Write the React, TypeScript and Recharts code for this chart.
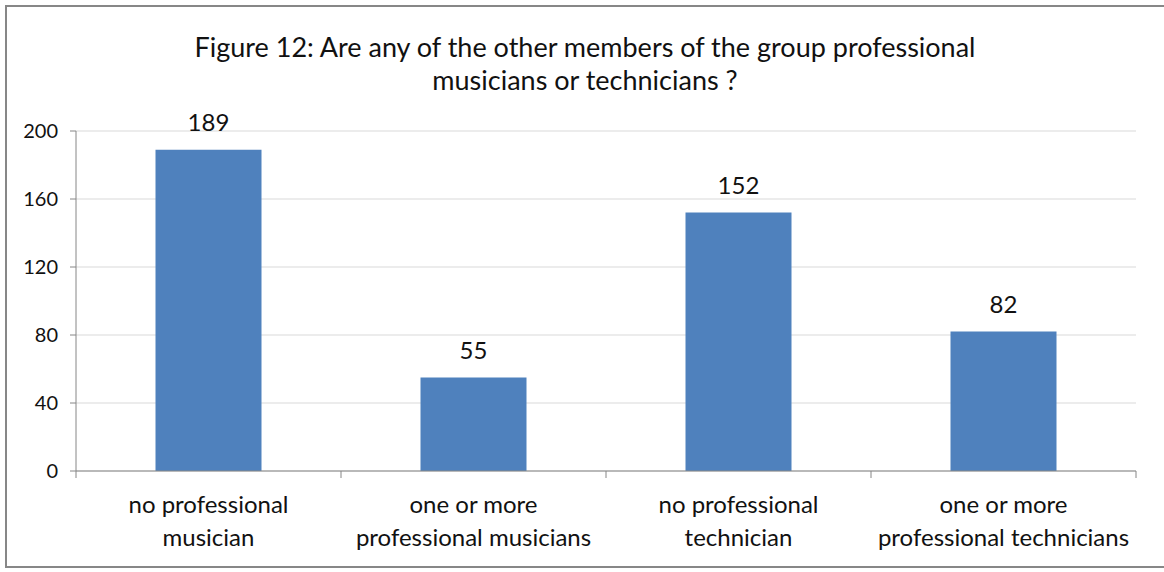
import React from "react";
import { BarChart, Bar, XAxis, YAxis, CartesianGrid, LabelList } from "recharts";

const categories = [
  "no professional|musician",
  "one or more|professional musicians",
  "no professional|technician",
  "one or more|professional technicians",
];
const counts = [189, 55, 152, 82];
const yTicks = [0, 40, 80, 120, 160, 200];

const data = categories.map((c, i) => ({ name: c, value: counts[i] }));

const FONT = "Lato, 'Open Sans', sans-serif";
const W = 1164;
const H = 572;
const PLOT_LEFT = 76;
const PLOT_RIGHT = 1136;
const band = (PLOT_RIGHT - PLOT_LEFT) / categories.length;

const CategoryTick = (props: any) => {
  const { x, y, payload, index } = props;
  const lines = String(payload.value).split("|");
  return (
    <g>
      <line x1={x - band / 2} y1={y - 8} x2={x - band / 2} y2={y - 1} stroke="#868686" />
      {index === categories.length - 1 && (
        <line x1={x + band / 2} y1={y - 8} x2={x + band / 2} y2={y - 1} stroke="#868686" />
      )}
      {lines.map((l, i) => (
        <text
          key={i}
          x={x}
          y={y + 34 + i * 33}
          textAnchor="middle"
          fontFamily={FONT}
          fontSize={24}
          fill="#111"
        >
          {l}
        </text>
      ))}
    </g>
  );
};

const App = () => {
  return (
    <div style={{ position: "relative", width: W, height: H, overflow: "hidden", background: "#fff" }}>
      <style>{`body{margin:0}`}</style>
      <div
        style={{
          position: "absolute",
          left: 5,
          top: 5,
          width: 1180,
          height: 563,
          border: "2px solid #878787",
          boxSizing: "border-box",
        }}
      />
      <div
        style={{
          position: "absolute",
          left: 0,
          top: 30,
          width: 1170,
          textAlign: "center",
          fontFamily: FONT,
          fontSize: 27,
          lineHeight: "33px",
          color: "#111",
        }}
      >
        Figure 12: Are any of the other members of the group professional
        <br />
        musicians or technicians ?
      </div>
      <div style={{ position: "absolute", left: 0, top: 0 }}>
        <BarChart
          width={W}
          height={H}
          data={data}
          margin={{ top: 131, right: W - PLOT_RIGHT, bottom: 11, left: 0 }}
          barCategoryGap="30%"
        >
          <CartesianGrid vertical={false} stroke="#d9d9d9" />
          <XAxis
            dataKey="name"
            height={90}
            axisLine={{ stroke: "#868686" }}
            tickLine={false}
            tick={<CategoryTick />}
            interval={0}
          />
          <YAxis
            width={PLOT_LEFT}
            domain={[0, 200]}
            ticks={yTicks}
            axisLine={{ stroke: "#868686" }}
            tickLine={{ stroke: "#868686" }}
            tickSize={6}
            tickMargin={12}
            tick={{ fontFamily: FONT, fontSize: 20, fill: "#111" }}
          />
          <Bar dataKey="value" fill="#4F81BD" isAnimationActive={false}>
            <LabelList
              dataKey="value"
              position="top"
              offset={19}
              style={{ fontFamily: FONT, fontSize: 24, fill: "#111" }}
            />
          </Bar>
        </BarChart>
      </div>
    </div>
  );
};

export default App;
